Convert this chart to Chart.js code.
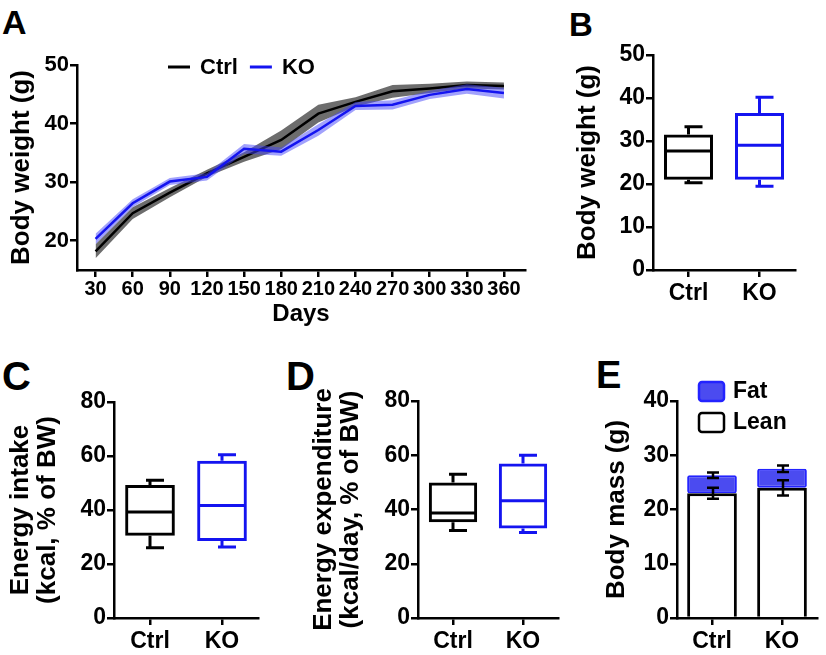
<!DOCTYPE html>
<html>
<head>
<meta charset="utf-8">
<script src="https://cdn.jsdelivr.net/npm/chart.js@4/dist/chart.umd.min.js"></script>
<style>
    body { margin: 0; background: #fff; width: 826px; height: 655px; position: relative; overflow: hidden; font-family: 'Liberation Sans', Arial, sans-serif; }
    canvas { position: absolute; }
    .panel-letter { position: absolute; font-weight: bold; color: #000; line-height: 1; }
</style>
</head>
<body>
<div class="panel-letter" style="left:2px;top:5px;font-size:34px">A</div>
<div class="panel-letter" style="left:569px;top:8px;font-size:33px">B</div>
<div class="panel-letter" style="left:2px;top:356px;font-size:40px">C</div>
<div class="panel-letter" style="left:286px;top:356px;font-size:40px">D</div>
<div class="panel-letter" style="left:596px;top:356px;font-size:38px">E</div>

<canvas id="chartA" width="540" height="330" style="left:0;top:0"></canvas>
<canvas id="chartB" width="286" height="330" style="left:540px;top:0"></canvas>
<canvas id="chartC" width="285" height="325" style="left:0;top:330px"></canvas>
<canvas id="chartD" width="275" height="325" style="left:285px;top:330px"></canvas>
<canvas id="chartE" width="266" height="325" style="left:560px;top:330px"></canvas>

<script>
// ---- data ----
const days = [30, 60, 90, 120, 150, 180, 210, 240, 270, 300, 330, 360];
const ctrlMean = [18.2, 24.7, 28.2, 31.5, 34.3, 37.2, 41.7, 43.7, 45.5, 46.0, 46.6, 46.4];
const ctrlSem = [1.2, 1.0, 0.8, 0.6, 0.8, 1.6, 1.5, 0.8, 1.1, 0.8, 0.6, 0.6];
const koMean = [20.3, 26.4, 30.1, 30.9, 35.7, 35.2, 38.9, 43.0, 43.2, 44.9, 45.9, 45.2];
const koSem = [0.9, 0.7, 0.6, 0.6, 0.8, 0.7, 1.0, 0.7, 0.8, 0.7, 0.8, 0.9];
const weightTicks = [20, 30, 40, 50];

const groups = ['Ctrl', 'KO'];

// B: body weight (box plot)
const bwMin = [20.3, 19.5];
const bwQ1 = [21.0, 21.0];
const bwMed = [27.7, 29.0];
const bwQ3 = [31.5, 36.5];
const bwMax = [33.3, 40.2];
const bwTicks = [0, 10, 20, 30, 40, 50];

// C: energy intake (box plot)
const eiMin = [26.0, 26.3];
const eiQ1 = [30.5, 28.5];
const eiMed = [39.3, 41.7];
const eiQ3 = [49.3, 58.2];
const eiMax = [51.0, 60.5];

// D: energy expenditure (box plot)
const eeMin = [32.3, 31.5];
const eeQ1 = [35.3, 33.0];
const eeMed = [38.7, 43.2];
const eeQ3 = [50.0, 57.0];
const eeMax = [53.0, 60.0];
const energyTicks = [0, 20, 40, 60, 80];

// E: body composition
const leanMass = [23.0, 24.0];
const fatMass = [3.3, 3.5];
const leanErr = [1.0, 1.4];
const totalErr = [0.5, 0.6];
const massTicks = [0, 10, 20, 30, 40];

// ---- styling ----
const FONT = "'Liberation Sans', Arial, sans-serif";
const BLACK = '#000000';
const BLUE = '#1414f0';
const groupColors = [BLACK, BLUE];

Chart.defaults.font.family = FONT;
Chart.defaults.font.weight = 'bold';
Chart.defaults.color = BLACK;

function fixedWidth(w) { return scale => { scale.width = w; }; }
function fixedHeight(h) { return scale => { scale.height = h; }; }
function fixedTicks(values) { return scale => { scale.ticks = values.map(v => ({ value: v })); }; }

function axisBase(size) {
    return {
        grid: { drawOnChartArea: false, drawTicks: true, tickLength: 7, color: BLACK, lineWidth: 2.5, offset: false },
        border: { display: true, color: BLACK, width: 2.5 },
        ticks: { color: BLACK, font: { size: size, weight: 'bold' }, padding: 1, autoSkip: false, maxRotation: 0 },
    };
}

/**
 * Median line, whiskers and caps for floating-bar boxes
 */
const boxWhiskerPlugin = {
    id: 'boxWhisker',
    afterDatasetsDraw(chart, args, opts) {
        if (!opts.med) return;
        const { ctx, scales: { x, y } } = chart;
        const bars = chart.getDatasetMeta(0).data;
        ctx.save();
        ctx.lineWidth = 3;
        opts.med.forEach((m, i) => {
            const cx = x.getPixelForValue(i);
            const w = bars[i].width;
            const yq1 = y.getPixelForValue(opts.q1[i]);
            const yq3 = y.getPixelForValue(opts.q3[i]);
            const ymin = y.getPixelForValue(opts.min[i]);
            const ymax = y.getPixelForValue(opts.max[i]);
            const ym = y.getPixelForValue(m);
            ctx.strokeStyle = groupColors[i];
            ctx.beginPath();
            ctx.moveTo(cx - w / 2 + 1, ym);
            ctx.lineTo(cx + w / 2 - 1, ym);
            ctx.moveTo(cx, yq3);
            ctx.lineTo(cx, ymax);
            ctx.moveTo(cx - 4, ymax);
            ctx.lineTo(cx + 14, ymax);
            ctx.moveTo(cx, yq1);
            ctx.lineTo(cx, ymin);
            ctx.moveTo(cx - 4, ymin);
            ctx.lineTo(cx + 14, ymin);
            ctx.stroke();
        });
        ctx.restore();
    }
};

/**
 * Legend with short line segments (panel A)
 */
const lineLegendPlugin = {
    id: 'lineLegend',
    afterDraw(chart, args, opts) {
        if (opts.offsetX === undefined) return;
        const { ctx, chartArea } = chart;
        ctx.save();
        ctx.font = 'bold 22px ' + FONT;
        ctx.textBaseline = 'middle';
        let x = chartArea.left + opts.offsetX;
        const y = chartArea.top + opts.offsetY;
        chart.data.datasets.filter(d => d.inLegend).forEach(d => {
            ctx.strokeStyle = d.borderColor;
            ctx.lineWidth = 3;
            ctx.beginPath();
            ctx.moveTo(x, y);
            ctx.lineTo(x + 22, y);
            ctx.stroke();
            ctx.fillStyle = BLACK;
            ctx.fillText(d.label, x + 32, y + 1);
            x += 32 + ctx.measureText(d.label).width + 12;
        });
        ctx.restore();
    }
};

/**
 * Error bars + square legend for stacked bars (panel E)
 */
const stackExtrasPlugin = {
    id: 'stackExtras',
    afterDatasetsDraw(chart, args, opts) {
        if (!opts.bars) return;
        const { ctx, scales: { x, y } } = chart;
        ctx.save();
        ctx.strokeStyle = BLACK;
        ctx.lineWidth = 2.5;
        opts.bars.forEach(b => {
            b.values.forEach((v, i) => {
                const cx = x.getPixelForValue(i) + 1;
                const top = y.getPixelForValue(v + b.err[i]);
                const bot = y.getPixelForValue(v - b.err[i]);
                ctx.beginPath();
                ctx.moveTo(cx, top);
                ctx.lineTo(cx, bot);
                ctx.moveTo(cx - 6, top);
                ctx.lineTo(cx + 6, top);
                ctx.moveTo(cx - 6, bot);
                ctx.lineTo(cx + 6, bot);
                ctx.stroke();
            });
        });
        ctx.restore();
    },
    afterDraw(chart, args, opts) {
        if (!opts.bars) return;
        const { ctx, chartArea } = chart;
        ctx.save();
        ctx.font = 'bold 23px ' + FONT;
        ctx.textBaseline = 'middle';
        const items = chart.data.datasets.slice().reverse();
        items.forEach((d, k) => {
            const sx = chartArea.left + 22;
            const sy = chartArea.top - 19 + k * 31;
            ctx.fillStyle = d.backgroundColor;
            ctx.strokeStyle = d.legendBorder;
            ctx.lineWidth = 2.5;
            ctx.beginPath();
            ctx.roundRect(sx, sy, 25, 19, 3);
            ctx.fill();
            ctx.stroke();
            ctx.fillStyle = BLACK;
            ctx.fillText(d.label, sx + 34, sy + 10);
        });
        ctx.restore();
    }
};

// ---- panel A: body weight over time ----
function pts(values) { return values.map((v, i) => ({ x: days[i], y: v })); }

function createWeightChart() {
    const ctrlUpper = ctrlMean.map((v, i) => v + ctrlSem[i]);
    const ctrlLower = ctrlMean.map((v, i) => v - ctrlSem[i]);
    const koUpper = koMean.map((v, i) => v + koSem[i]);
    const koLower = koMean.map((v, i) => v - koSem[i]);
    const band = { borderColor: 'rgba(0,0,0,0)', borderWidth: 1, pointRadius: 0, tension: 0 };

    const x = axisBase(20);
    Object.assign(x, {
        type: 'linear', min: 15, max: 377,
        afterBuildTicks: fixedTicks(days),
        afterFit: fixedHeight(56),
        title: { display: true, text: 'Days', color: BLACK, font: { size: 24, weight: 'bold', lineHeight: 1 }, padding: 0 },
    });
    x.ticks.padding = 0;

    const y = axisBase(22);
    Object.assign(y, {
        min: 15, max: 50,
        afterBuildTicks: fixedTicks(weightTicks),
        afterFit: fixedWidth(68),
        title: { display: true, text: 'Body weight (g)', color: BLACK, font: { size: 26, weight: 'bold', lineHeight: 1 }, padding: 0 },
    });

    return new Chart(document.getElementById('chartA'), {
        type: 'line',
        data: {
            datasets: [
                { ...band, label: 'Ctrl lower', data: pts(ctrlLower), fill: false, order: 3 },
                { ...band, label: 'Ctrl upper', data: pts(ctrlUpper), fill: '-1', backgroundColor: 'rgba(20,20,20,0.62)', order: 3 },
                { label: 'Ctrl', inLegend: true, data: pts(ctrlMean), borderColor: BLACK, borderWidth: 2.5, pointRadius: 0, tension: 0, fill: false, order: 2 },
                { ...band, label: 'KO lower', data: pts(koLower), fill: false, order: 1 },
                { ...band, label: 'KO upper', data: pts(koUpper), fill: '-1', backgroundColor: 'rgba(70,70,250,0.5)', order: 1 },
                { label: 'KO', inLegend: true, data: pts(koMean), borderColor: BLUE, borderWidth: 2.5, pointRadius: 0, tension: 0, fill: false, order: 0 },
            ]
        },
        options: {
            responsive: false,
            animation: false,
            layout: { padding: { left: 9, top: 65, right: 15, bottom: 4 } },
            plugins: { legend: { display: false }, tooltip: { enabled: false }, lineLegend: { offsetX: 91, offsetY: 2 } },
            scales: { x, y },
        },
        plugins: [lineLegendPlugin],
    });
}

// ---- panels B, C, D: box plots ----
function createBoxChart(canvasId, layout, yTicks, titleLines, stats) {
    const x = axisBase(23);
    x.afterFit = fixedHeight(layout.xHeight);
    x.ticks.padding = 3;

    const y = axisBase(23);
    Object.assign(y, {
        min: 0, max: yTicks[yTicks.length - 1],
        afterBuildTicks: fixedTicks(yTicks),
        afterFit: fixedWidth(layout.yWidth),
        title: { display: true, text: titleLines, color: BLACK, font: { size: 26, weight: 'bold', lineHeight: 1.05 }, padding: 0 },
    });

    return new Chart(document.getElementById(canvasId), {
        type: 'bar',
        data: {
            labels: groups,
            datasets: [{
                data: stats.q1.map((v, i) => [v, stats.q3[i]]),
                backgroundColor: 'rgba(0,0,0,0)',
                borderColor: groupColors,
                borderWidth: 3,
                borderSkipped: false,
                barPercentage: 0.69,
                categoryPercentage: 1,
            }]
        },
        options: {
            responsive: false,
            animation: false,
            layout: { padding: layout.padding },
            plugins: { legend: { display: false }, tooltip: { enabled: false }, boxWhisker: stats },
            scales: { x, y },
        },
        plugins: [boxWhiskerPlugin],
    });
}

// ---- panel E: stacked lean / fat ----
function createMassChart() {
    const totals = leanMass.map((v, i) => v + fatMass[i]);

    const x = axisBase(23);
    x.afterFit = fixedHeight(37);
    x.ticks.padding = 3;

    const y = axisBase(23);
    Object.assign(y, {
        min: 0, max: 40, stacked: true,
        afterBuildTicks: fixedTicks(massTicks),
        afterFit: fixedWidth(73),
        title: { display: true, text: 'Body mass (g)', color: BLACK, font: { size: 26, weight: 'bold', lineHeight: 1 }, padding: 0 },
    });
    x.stacked = true;

    return new Chart(document.getElementById('chartE'), {
        type: 'bar',
        data: {
            labels: groups,
            datasets: [
                { label: 'Lean', data: leanMass, backgroundColor: '#ffffff', borderColor: BLACK, legendBorder: BLACK, borderWidth: 3, borderSkipped: 'bottom', barPercentage: 0.71, categoryPercentage: 1 },
                { label: 'Fat', data: fatMass, backgroundColor: 'rgb(75,75,240)', borderColor: 'rgb(35,35,255)', legendBorder: 'rgb(35,35,255)', borderWidth: 2, borderSkipped: false, borderRadius: 2, barPercentage: 0.71, categoryPercentage: 1 },
            ]
        },
        options: {
            responsive: false,
            animation: false,
            layout: { padding: { left: 44, top: 71, right: 9, bottom: 0 } },
            plugins: {
                legend: { display: false }, tooltip: { enabled: false },
                stackExtras: { bars: [{ values: leanMass, err: leanErr }, { values: totals, err: totalErr }] },
            },
            scales: { x, y },
        },
        plugins: [stackExtrasPlugin],
    });
}

createWeightChart();
createBoxChart('chartB', { padding: { left: 34, top: 55, right: 31, bottom: 0 }, yWidth: 79, xHeight: 60 },
    bwTicks, 'Body weight (g)', { min: bwMin, q1: bwQ1, med: bwMed, q3: bwQ3, max: bwMax });
createBoxChart('chartC', { padding: { left: 7, top: 72, right: 27, bottom: 0 }, yWidth: 107, xHeight: 37 },
    energyTicks, ['Energy intake', '(kcal, % of BW)'], { min: eiMin, q1: eiQ1, med: eiMed, q3: eiQ3, max: eiMax });
createBoxChart('chartD', { padding: { left: 25, top: 71, right: 2, bottom: 0 }, yWidth: 108, xHeight: 37 },
    energyTicks, ['Energy expenditure', '(kcal/day, % of BW)'], { min: eeMin, q1: eeQ1, med: eeMed, q3: eeQ3, max: eeMax });
createMassChart();
</script>
</body>
</html>
